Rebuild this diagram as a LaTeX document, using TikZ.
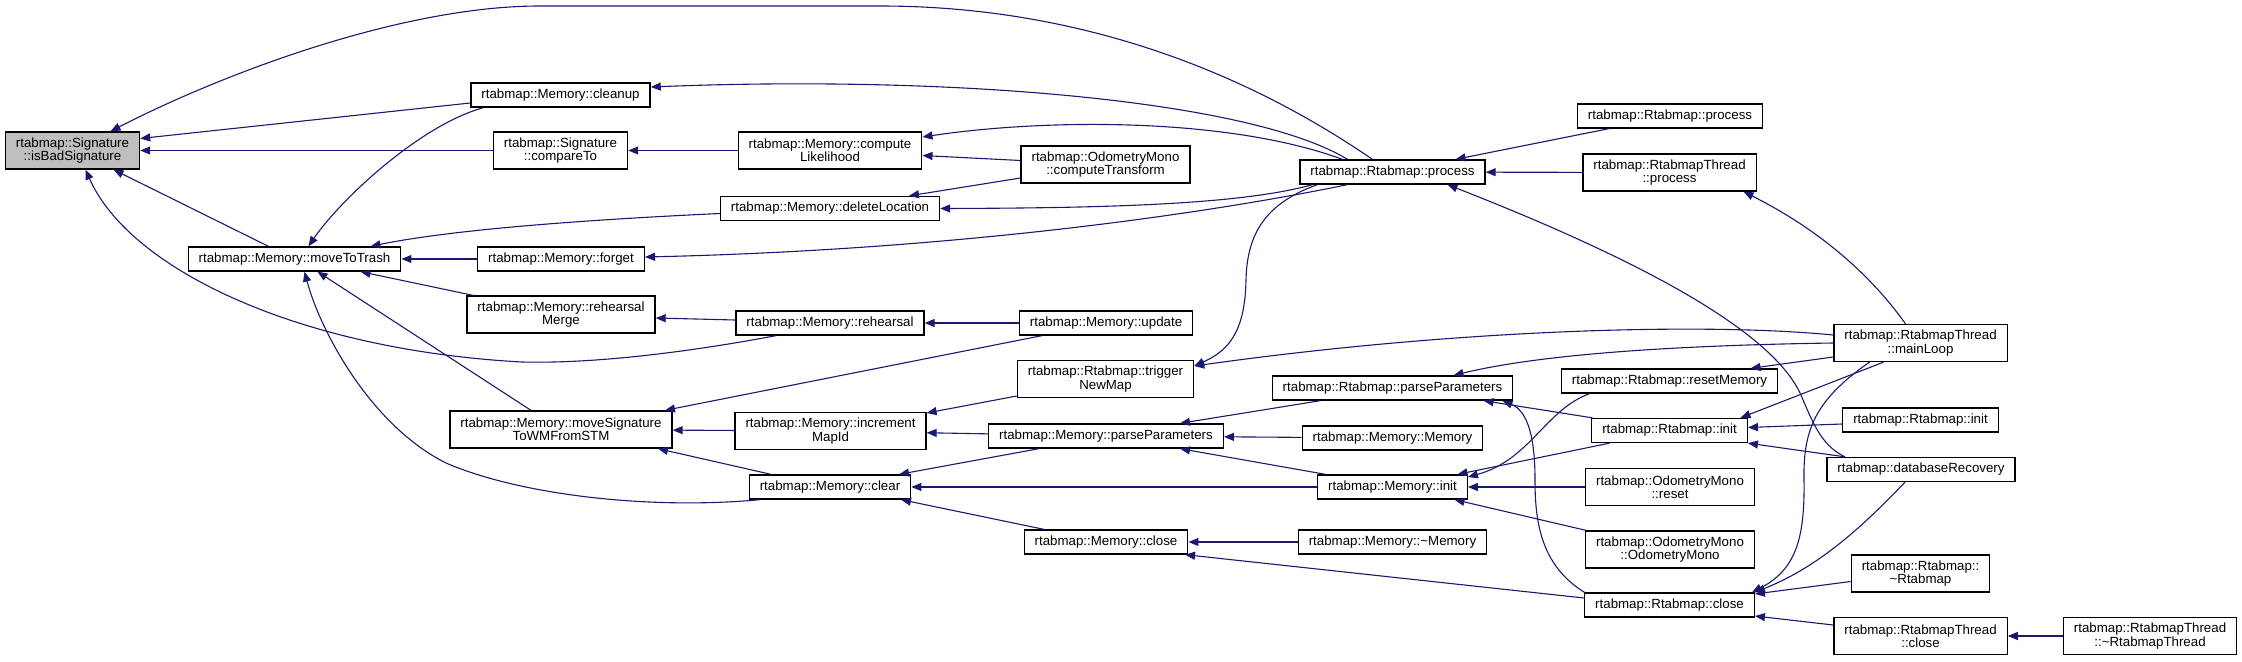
\documentclass[tikz,border=0pt]{standalone}
\usepackage{fontspec}
\usepackage{tikz}
\usetikzlibrary{arrows.meta}
\newfontfamily\doxyfont{Liberation Sans}
\definecolor{callblue}{HTML}{191970}
\definecolor{selgray}{HTML}{BFBFBF}

\begin{document}
\begin{tikzpicture}[x=1pt,y=-1pt,
  fn/.style={draw=black,line width=1.3pt,fill=white,shape=rectangle,inner xsep=10.5pt,inner ysep=0pt,
    minimum height=24pt,align=center,font=\doxyfont\fontsize{13.3}{13.3}\selectfont},
  fntwo/.style={fn,minimum height=37pt},
  callarrow/.style={draw=callblue,line width=1.1pt,-{Triangle[length=10pt,width=8pt]}}]
\useasboundingbox (0,0) rectangle (2242,661);

% column 1-3
\node (isbad) at (72.5,150.5) [fntwo,fill=selgray]{rtabmap::Signature\\::isBadSignature};
\node (cleanup) at (560.5,95) [fn]{rtabmap::Memory::cleanup};
\node (compareto) at (560.5,150.5) [fntwo]{rtabmap::Signature\\::compareTo};
\node (movetotrash) at (294.5,259) [fn]{rtabmap::Memory::moveToTrash};
\node (forget) at (561,259) [fn]{rtabmap::Memory::forget};
\node (rehearsalmerge) at (561,314.5) [fntwo]{rtabmap::Memory::rehearsal\\Merge};
\node (movesig) at (561,429.5) [fntwo]{rtabmap::Memory::moveSignature\\ToWMFromSTM};

% column 4-5
\node (likelihood) at (830,150.5) [fntwo]{rtabmap::Memory::compute\\Likelihood};
\node (deletelocation) at (830,208.5) [fn]{rtabmap::Memory::deleteLocation};
\node (rehearsal) at (830,323) [fn]{rtabmap::Memory::rehearsal};
\node (incrementmapid) at (830.5,431) [fntwo]{rtabmap::Memory::increment\\MapId};
\node (clear) at (830,487) [fn]{rtabmap::Memory::clear};
\node (computetransform) at (1105.5,164.5) [fntwo]{rtabmap::OdometryMono\\::computeTransform};
\node (update) at (1106,323) [fn]{rtabmap::Memory::update};
\node (triggernewmap) at (1105.5,379) [fntwo]{rtabmap::Rtabmap::trigger\\NewMap};
\node (mparse) at (1106,436) [fn]{rtabmap::Memory::parseParameters};
\node (mclose) at (1106,542) [fn]{rtabmap::Memory::close};

% column 6-7
\node (process) at (1392.5,172) [fn]{rtabmap::Rtabmap::process};
\node (rparse) at (1392.5,388) [fn]{rtabmap::Rtabmap::parseParameters};
\node (memorymemory) at (1392.5,438) [fn]{rtabmap::Memory::Memory};
\node (minit) at (1392.5,487) [fn]{rtabmap::Memory::init};
\node (mdestructor) at (1392.5,542) [fn]{rtabmap::Memory::\textasciitilde Memory};
\node (rprocess2) at (1670,116) [fn]{rtabmap::Rtabmap::process};
\node (threadprocess) at (1669.5,172.5) [fntwo]{rtabmap::RtabmapThread\\::process};
\node (resetmemory) at (1669.5,381) [fn]{rtabmap::Rtabmap::resetMemory};
\node (rinit) at (1669.5,430.5) [fn]{rtabmap::Rtabmap::init};
\node (odomreset) at (1670,487) [fntwo]{rtabmap::OdometryMono\\::reset};
\node (odommono) at (1670,549.5) [fntwo]{rtabmap::OdometryMono\\::OdometryMono};
\node (rclose) at (1669.5,605) [fn]{rtabmap::Rtabmap::close};

% column 8-9
\node (mainloop) at (1920.5,343) [fntwo]{rtabmap::RtabmapThread\\::mainLoop};
\node (rinit2) at (1920.5,420) [fn]{rtabmap::Rtabmap::init};
\node (dbrecovery) at (1921,469.5) [fn]{rtabmap::databaseRecovery};
\node (rdestructor) at (1920.5,573.5) [fntwo]{rtabmap::Rtabmap::\\\textasciitilde Rtabmap};
\node (threadclose) at (1920.5,636) [fntwo]{rtabmap::RtabmapThread\\::close};
\node (threaddestructor) at (2150,636) [fntwo]{rtabmap::RtabmapThread\\::\textasciitilde RtabmapThread};

% calls into isBadSignature
\draw[callarrow] ([xshift=-20pt]process.north) .. controls (1300,110) and (1130,6) .. (880,6)
  -- (540,6) .. controls (400,6) and (220,75) .. ([xshift=38pt]isbad.north);
\draw[callarrow] ([yshift=-8pt]cleanup.west) -- ([yshift=12pt]isbad.east);
\draw[callarrow] (compareto) -- (isbad);
\draw[callarrow] ([xshift=-26pt]movetotrash.north) -- ([xshift=41pt]isbad.south);
\draw[callarrow] ([xshift=-54pt]rehearsal.south) .. controls (700,350) and (600,364) .. (522,362)
  .. controls (300,350) and (130,270) .. ([xshift=13pt]isbad.south);

% second column
\draw[callarrow] ([xshift=-45pt]process.north) .. controls (1250,100) and (950,75) .. ([yshift=8pt]cleanup.east);
\draw[callarrow] ([xshift=-77pt]cleanup.south) .. controls (420,125) and (340,200) .. ([xshift=14pt]movetotrash.north);
\draw[callarrow] (likelihood) -- (compareto);
\draw[callarrow] ([xshift=-50pt]process.north) .. controls (1230,118) and (1050,118) .. ([yshift=13.5pt]likelihood.east);
\draw[callarrow] ([yshift=4pt]computetransform.west) -- ([yshift=-5pt]likelihood.east);
\draw[callarrow] ([yshift=-13.5pt]computetransform.west) -- ([xshift=79pt]deletelocation.north);
\draw[callarrow] ([xshift=-80pt]process.south) .. controls (1240,205) and (1100,208) .. (deletelocation.east);
\draw[callarrow] ([yshift=-5pt]deletelocation.west) .. controls (580,220) and (450,230) .. ([xshift=76pt]movetotrash.north);
\draw[callarrow] (forget) -- (movetotrash);
\draw[callarrow] ([xshift=-45pt]process.south) .. controls (1200,215) and (950,250) .. ([yshift=2pt]forget.east);
\draw[callarrow] ([xshift=-88pt]rehearsalmerge.north) -- ([xshift=66pt]movetotrash.south);
\draw[callarrow] ([xshift=-30pt]movesig.north) -- ([xshift=23pt]movetotrash.south);
\draw[callarrow] ([xshift=-70pt]clear.south) .. controls (650,510) and (520,495) .. (446,463)
  .. controls (370,425) and (320,330) .. ([xshift=10pt]movetotrash.south);
\draw[callarrow] ([yshift=3pt]rehearsal.west) -- ([yshift=-3.5pt]rehearsalmerge.east);
\draw[callarrow] (update) -- (rehearsal);
\draw[callarrow] ([xshift=-64pt]update.south) -- ([xshift=104pt]movesig.north);
\draw[callarrow] (incrementmapid) -- (movesig);
\draw[callarrow] ([xshift=-59pt]clear.north) -- ([xshift=97pt]movesig.south);

% middle
\draw[callarrow] ([xshift=-75pt]process.south) .. controls (1260,205) and (1247,240) .. (1246,280)
  .. controls (1245,330) and (1230,350) .. ([yshift=13pt]triggernewmap.east);
\draw[callarrow] ([yshift=-17pt]triggernewmap.west) -- ([yshift=18pt]incrementmapid.east);
\draw[callarrow] (mparse) -- (incrementmapid);
\draw[callarrow] ([xshift=-67pt]mparse.south) -- ([xshift=69pt]clear.north);
\draw[callarrow] (minit) -- (clear);
\draw[callarrow] ([xshift=-62pt]mclose.north) -- ([xshift=71pt]clear.south);
\draw[callarrow] ([xshift=-72pt]rparse.south) -- ([xshift=74pt]mparse.north);
\draw[callarrow] (memorymemory) -- (mparse);
\draw[callarrow] ([xshift=-67pt]minit.north) -- ([xshift=74pt]mparse.south);
\draw[callarrow] (mdestructor) -- (mclose);
\draw[callarrow] ([yshift=7pt]rclose.west) -- ([xshift=79pt]mclose.south);

% right part
\draw[callarrow] ([xshift=-61pt]rprocess2.south) -- ([xshift=63pt]process.north);
\draw[callarrow] (threadprocess) -- (process);
\draw[callarrow] ([xshift=-76pt]dbrecovery.north) .. controls (1820,445) and (1812,420) .. (1800,393)
  .. controls (1770,330) and (1640,260) .. ([xshift=55pt]process.south);
\draw[callarrow] ([xshift=-15pt]mainloop.north) .. controls (1860,260) and (1800,220) .. ([xshift=74pt]threadprocess.south);
\draw[callarrow] ([yshift=8pt]mainloop.west) .. controls (1700,322) and (1450,330) .. ([yshift=13pt]triggernewmap.east);
\draw[callarrow] (mainloop.west) .. controls (1700,345) and (1550,352) .. ([xshift=61pt]rparse.north);
\draw[callarrow] ([xshift=-77pt]rinit.north) -- ([xshift=91pt]rparse.south);
\draw[callarrow] ([xshift=-85pt]rclose.north) .. controls (1540,565) and (1535,520) .. (1535,480)
  .. controls (1535,430) and (1525,410) .. ([xshift=110pt]rparse.south);
\draw[callarrow] ([xshift=-80pt]resetmemory.south) .. controls (1545,410) and (1530,460) .. ([yshift=10pt]minit.east);
\draw[callarrow] ([xshift=-60pt]rinit.south) -- ([xshift=65pt]minit.north);
\draw[callarrow] (odomreset) -- (minit);
\draw[callarrow] ([xshift=-84pt]odommono.north) -- ([xshift=62pt]minit.south);
\draw[callarrow] ([yshift=-14pt]mainloop.west) -- ([xshift=81pt]resetmemory.north);
\draw[callarrow] ([xshift=-37pt]mainloop.south) -- ([xshift=71pt]rinit.north);
\draw[callarrow] ([xshift=-51pt]mainloop.south) .. controls (1815,400) and (1803,430) .. (1804,480)
  .. controls (1805,540) and (1795,570) .. ([xshift=-3pt]rclose.north east);
\draw[callarrow] ([yshift=-4pt]rinit2.west) -- ([yshift=3pt]rinit.east);
\draw[callarrow] ([xshift=-76pt]dbrecovery.north) -- (rinit.south east);
\draw[callarrow] ([xshift=-16pt]dbrecovery.south) .. controls (1850,540) and (1810,570) .. (rclose.north east);
\draw[callarrow] ([yshift=-8pt]rdestructor.west) -- ([yshift=11pt]rclose.east);
\draw[callarrow] ([yshift=11pt]threadclose.west) -- ([yshift=-11pt]rclose.east);
\draw[callarrow] (threaddestructor) -- (threadclose);
\end{tikzpicture}
\end{document}
